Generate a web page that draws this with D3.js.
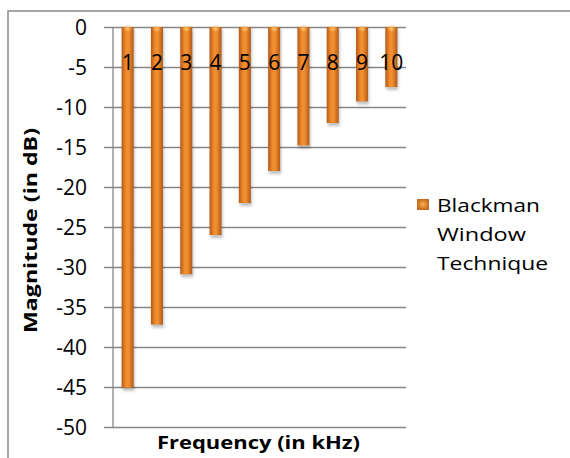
<!DOCTYPE html>
<html>
<head>
<meta charset="utf-8">
<script src="https://cdn.jsdelivr.net/npm/d3@7"></script>
<style>
  body { margin: 0; background: #fff; }
  text { font-family: "Open Sans", sans-serif; fill: #000; }
</style>
</head>
<body>
<div id="chart"></div>
<script>
// chart data
var categories = ["1", "2", "3", "4", "5", "6", "7", "8", "9", "10"];
var magnitudes = [-45.1, -37.2, -30.9, -26, -22, -18, -14.8, -12, -9.3, -7.5];
var yTicks = [0, -5, -10, -15, -20, -25, -30, -35, -40, -45, -50];
var seriesName = ["Blackman", "Window", "Technique"];
var seriesNameWidths = [103, 89, 111];

var width = 570, height = 458;
var plot = { left: 113, right: 406, top: 27, bottom: 427 };
var barWidth = 12;

var svg = d3.select("#chart").append("svg")
	.attr("width", width)
	.attr("height", height);

var defs = svg.append("defs");

// cylinder-ish bar fill
var barGrad = defs.append("linearGradient")
	.attr("id", "barGrad")
	.attr("x1", "0").attr("x2", "1").attr("y1", "0").attr("y2", "0");
barGrad.append("stop").attr("offset", "0%").attr("stop-color", "#b45a17");
barGrad.append("stop").attr("offset", "35%").attr("stop-color", "#f08a2c");
barGrad.append("stop").attr("offset", "55%").attr("stop-color", "#f39233");
barGrad.append("stop").attr("offset", "100%").attr("stop-color", "#b35917");

var capGrad = defs.append("radialGradient")
	.attr("id", "capGrad");
capGrad.append("stop").attr("offset", "0%").attr("stop-color", "#fcd27a");
capGrad.append("stop").attr("offset", "100%").attr("stop-color", "#f08a2c").attr("stop-opacity", 0);

var legendGrad = defs.append("radialGradient")
	.attr("id", "legendGrad");
legendGrad.append("stop").attr("offset", "0%").attr("stop-color", "#f8b04a");
legendGrad.append("stop").attr("offset", "100%").attr("stop-color", "#c8691d");

var shadow = defs.append("filter")
	.attr("id", "shadow")
	.attr("x", "-50%").attr("y", "-50%").attr("width", "200%").attr("height", "200%");
shadow.append("feGaussianBlur").attr("stdDeviation", 1.6);

// outer border (top and left only visible)
svg.append("path")
	.attr("d", "M8," + height + "V11H" + width)
	.attr("fill", "none")
	.attr("stroke", "#898989")
	.attr("stroke-width", 1.5);

var x = d3.scaleBand()
	.domain(categories)
	.range([plot.left, plot.right]);

var y = d3.scaleLinear()
	.domain([-50, 0])
	.range([plot.bottom, plot.top]);

// gridlines + tick marks
var yAxis = svg.append("g")
	.attr("transform", "translate(" + plot.left + ",0)")
	.call(d3.axisLeft(y)
		.tickValues(yTicks)
		.tickSize(9)
		.tickPadding(17)
		.tickFormat(function(d) { return String(d); }));
yAxis.select(".domain").remove();
yAxis.selectAll(".tick line")
	.attr("x2", plot.right - plot.left)
	.attr("x1", -9)
	.attr("stroke", "#868686")
	.attr("stroke-width", 1.3);
yAxis.selectAll(".tick text")
	.attr("font-size", 21)
	.attr("font-family", "Open Sans, sans-serif")
	.attr("fill", "#000")
	.attr("dy", "0.36em");

// vertical axis line
svg.append("line")
	.attr("x1", plot.left).attr("x2", plot.left)
	.attr("y1", y(0)).attr("y2", y(-50))
	.attr("stroke", "#868686")
	.attr("stroke-width", 1.3);

// bars
var bars = svg.append("g");
var barData = categories.map(function(c, i) { return { cat: c, v: magnitudes[i] }; });

bars.selectAll("rect.shadow")
	.data(barData).enter()
	.append("rect")
		.attr("class", "shadow")
		.attr("x", function(d) { return x(d.cat) + x.bandwidth() / 2 - barWidth / 2 + 1; })
		.attr("y", function(d) { return y(0) + 2; })
		.attr("width", barWidth)
		.attr("height", function(d) { return y(d.v) - y(0) + 1; })
		.attr("fill", "#000")
		.attr("opacity", 0.25)
		.attr("filter", "url(#shadow)");

bars.selectAll("rect.bar")
	.data(barData).enter()
	.append("rect")
		.attr("class", "bar")
		.attr("x", function(d) { return x(d.cat) + x.bandwidth() / 2 - barWidth / 2; })
		.attr("y", y(0))
		.attr("width", barWidth)
		.attr("height", function(d) { return y(d.v) - y(0); })
		.attr("fill", "url(#barGrad)");

bars.selectAll("ellipse.cap")
	.data(barData).enter()
	.append("ellipse")
		.attr("class", "cap")
		.attr("cx", function(d) { return x(d.cat) + x.bandwidth() / 2; })
		.attr("cy", y(0) + 2)
		.attr("rx", barWidth / 2 - 1)
		.attr("ry", 4)
		.attr("fill", "url(#capGrad)");

// data labels
svg.append("g").selectAll("text")
	.data(barData).enter()
	.append("text")
		.attr("x", function(d) { return x(d.cat) + x.bandwidth() / 2; })
		.attr("y", y(-5) + 3)
		.attr("text-anchor", "middle")
		.attr("font-size", 21)
		.text(function(d) { return d.cat; });

// axis titles
svg.append("text")
	.attr("x", 157)
	.attr("y", 449)
	.attr("font-size", 18)
	.attr("font-weight", "bold")
	.attr("textLength", 203)
	.attr("lengthAdjust", "spacingAndGlyphs")
	.text("Frequency (in kHz)");

svg.append("text")
	.attr("transform", "translate(37,333) rotate(-90)")
	.attr("font-size", 18)
	.attr("font-weight", "bold")
	.attr("textLength", 205)
	.attr("lengthAdjust", "spacingAndGlyphs")
	.text("Magnitude (in dB)");

// legend
var legend = svg.append("g");
legend.append("rect")
	.attr("x", 417).attr("y", 199)
	.attr("width", 12).attr("height", 11)
	.attr("fill", "url(#legendGrad)");
legend.selectAll("text")
	.data(seriesName).enter()
	.append("text")
		.attr("x", 437)
		.attr("y", function(d, i) { return 212 + i * 29; })
		.attr("font-size", 18)
		.attr("textLength", function(d, i) { return seriesNameWidths[i]; })
		.attr("lengthAdjust", "spacingAndGlyphs")
		.text(function(d) { return d; });
</script>
</body>
</html>
